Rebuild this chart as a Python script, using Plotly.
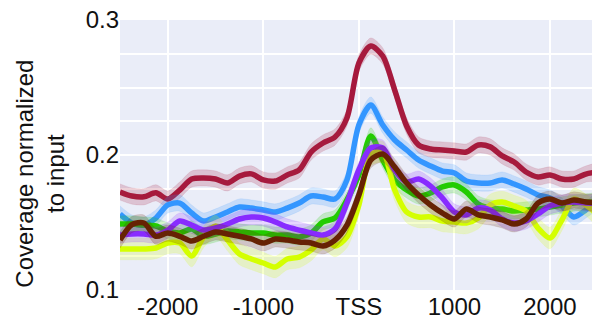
import plotly.graph_objects as go

positions = [-2500, -2375, -2250, -2125, -2000, -1875, -1750, -1625, -1500, -1375,
             -1250, -1125, -1000, -875, -750, -625, -500, -375, -250, -125,
             0, 125, 250, 375, 500, 625, 750, 875, 1000, 1125,
             1250, 1375, 1500, 1625, 1750, 1875, 2000, 2125, 2250, 2375, 2500]

crimson = [0.1726, 0.1696, 0.169, 0.172, 0.1674, 0.174, 0.1822, 0.183, 0.1822, 0.1793,
           0.1844, 0.186, 0.1815, 0.1807, 0.1852, 0.1889, 0.2022, 0.2089, 0.2133, 0.2274,
           0.268, 0.2807, 0.2733, 0.2481, 0.2215, 0.2074, 0.2044, 0.2037, 0.203, 0.2022,
           0.2074, 0.206, 0.1993, 0.1948, 0.1874, 0.1837, 0.1852, 0.1822, 0.1822, 0.1859, 0.1874]
blue = [0.1563, 0.1496, 0.1481, 0.1533, 0.163, 0.1644, 0.157, 0.1511, 0.1541, 0.1578,
        0.1615, 0.1607, 0.1593, 0.1578, 0.1607, 0.1644, 0.1696, 0.1689, 0.1674, 0.1815,
        0.2222, 0.237, 0.2222, 0.2111, 0.2037, 0.1963, 0.1919, 0.1881, 0.1867, 0.1807,
        0.1793, 0.1793, 0.1815, 0.1785, 0.1748, 0.1704, 0.1681, 0.1622, 0.1541, 0.1593, 0.1667]
green = [0.1489, 0.1489, 0.1481, 0.1474, 0.1437, 0.1422, 0.1452, 0.1398, 0.1415, 0.1437,
         0.143, 0.1422, 0.1422, 0.1407, 0.1407, 0.1393, 0.1422, 0.1504, 0.1533, 0.1667,
         0.1852, 0.2141, 0.1963, 0.1815, 0.1741, 0.1696, 0.1719, 0.1763, 0.1778, 0.1726,
         0.1637, 0.1607, 0.16, 0.1585, 0.1593, 0.16, 0.1615, 0.163, 0.1644, 0.1652, 0.1652]
purple = [0.1407, 0.1415, 0.1415, 0.1407, 0.1444, 0.1511, 0.1481, 0.1444, 0.1459, 0.1489,
          0.1526, 0.1541, 0.1533, 0.1504, 0.1467, 0.1444, 0.1422, 0.1407, 0.1452, 0.1644,
          0.1889, 0.2052, 0.2052, 0.1889, 0.18, 0.1822, 0.177, 0.1681, 0.1578, 0.1556,
          0.1607, 0.1593, 0.1526, 0.1496, 0.1511, 0.1563, 0.1622, 0.1644, 0.1652, 0.1644, 0.1644]
yellow = [0.1304, 0.1304, 0.1304, 0.1311, 0.1348, 0.1348, 0.1252, 0.1393, 0.1474, 0.137,
          0.1267, 0.123, 0.12, 0.117, 0.123, 0.1244, 0.1296, 0.1378, 0.1326, 0.1393,
          0.163, 0.2, 0.2022, 0.1741, 0.1578, 0.1541, 0.1541, 0.1511, 0.1504, 0.1496,
          0.1533, 0.163, 0.1652, 0.1622, 0.1585, 0.1459, 0.1385, 0.1519, 0.1674, 0.163, 0.1556]
brown = [0.137, 0.1485, 0.1496, 0.1398, 0.1422, 0.1398, 0.1363, 0.1398, 0.143, 0.1415,
         0.1398, 0.1378, 0.1348, 0.1378, 0.137, 0.1356, 0.1348, 0.1326, 0.137, 0.1481,
         0.1704, 0.1963, 0.2007, 0.1911, 0.1793, 0.1704, 0.163, 0.157, 0.1526, 0.16,
         0.1556, 0.1541, 0.1519, 0.1489, 0.1526, 0.1644, 0.1674, 0.1644, 0.1667, 0.1652, 0.1644]

errors = {"crimson": 0.006, "blue": 0.006, "green": 0.006, "yellow": 0.008, "purple": 0.006, "brown": 0.006}

x_tickvals = [-2000, -1000, 0, 1000, 2000]
x_ticktext = ["-2000", "-1000", "TSS", "1000", "2000"]
y_tickvals = [0.1, 0.2, 0.3]
y_ticktext = ["0.1", "0.2", "0.3"]

series = [
    ("crimson", crimson, (166, 26, 61)),
    ("blue", blue, (51, 150, 255)),
    ("green", green, (34, 204, 0)),
    ("yellow", yellow, (212, 255, 0)),
    ("purple", purple, (136, 43, 255)),
    ("brown", brown, (102, 34, 4)),
]

fig = go.Figure()
for name, vals, (r, g, b) in series:
    e = errors[name]
    upper = [v + e for v in vals]
    lower = [v - e for v in vals]
    fig.add_trace(go.Scatter(
        x=positions + positions[::-1], y=upper + lower[::-1],
        fill="toself", fillcolor=f"rgba({r},{g},{b},0.2)",
        line=dict(color=f"rgba({r},{g},{b},0.1)", width=1, shape="spline", smoothing=0.8),
        mode="lines", hoverinfo="skip", showlegend=False))
    fig.add_trace(go.Scatter(
        x=positions, y=vals, mode="lines", name=name,
        line=dict(color=f"rgb({r},{g},{b})", width=5.5, shape="spline", smoothing=0.8),
        showlegend=False))

font_family = "Liberation Sans, Arial, Helvetica, sans-serif"
fig.update_layout(
    width=592, height=323,
    margin=dict(l=120, r=0, t=20, b=33),
    paper_bgcolor="white",
    plot_bgcolor="#EAEDF8",
    font=dict(family=font_family, size=24, color="#111111"),
    xaxis=dict(range=[-2500, 2440], tickvals=x_tickvals, ticktext=x_ticktext,
               showgrid=True, gridcolor="white", gridwidth=2, zeroline=False,
               showline=False, ticks="", tickfont=dict(size=24)),
    yaxis=dict(range=[0.1, 0.3], tickvals=y_tickvals, ticktext=y_ticktext,
               showgrid=True, gridcolor="white", gridwidth=2, zeroline=False,
               showline=False, ticks="", tickfont=dict(size=24),
               minor=dict(dtick=0.025, showgrid=True, gridcolor="white", gridwidth=2)),
    annotations=[dict(text="Coverage normalized<br>to input", textangle=-90,
                      xref="paper", yref="paper", x=-0.17, y=0.43,
                      xanchor="center", yanchor="middle", showarrow=False,
                      font=dict(size=24, family=font_family, color="#111111"))],
)

fig.write_html("out.html", config={"displayModeBar": False},
               post_script="document.body.style.margin='0';")
